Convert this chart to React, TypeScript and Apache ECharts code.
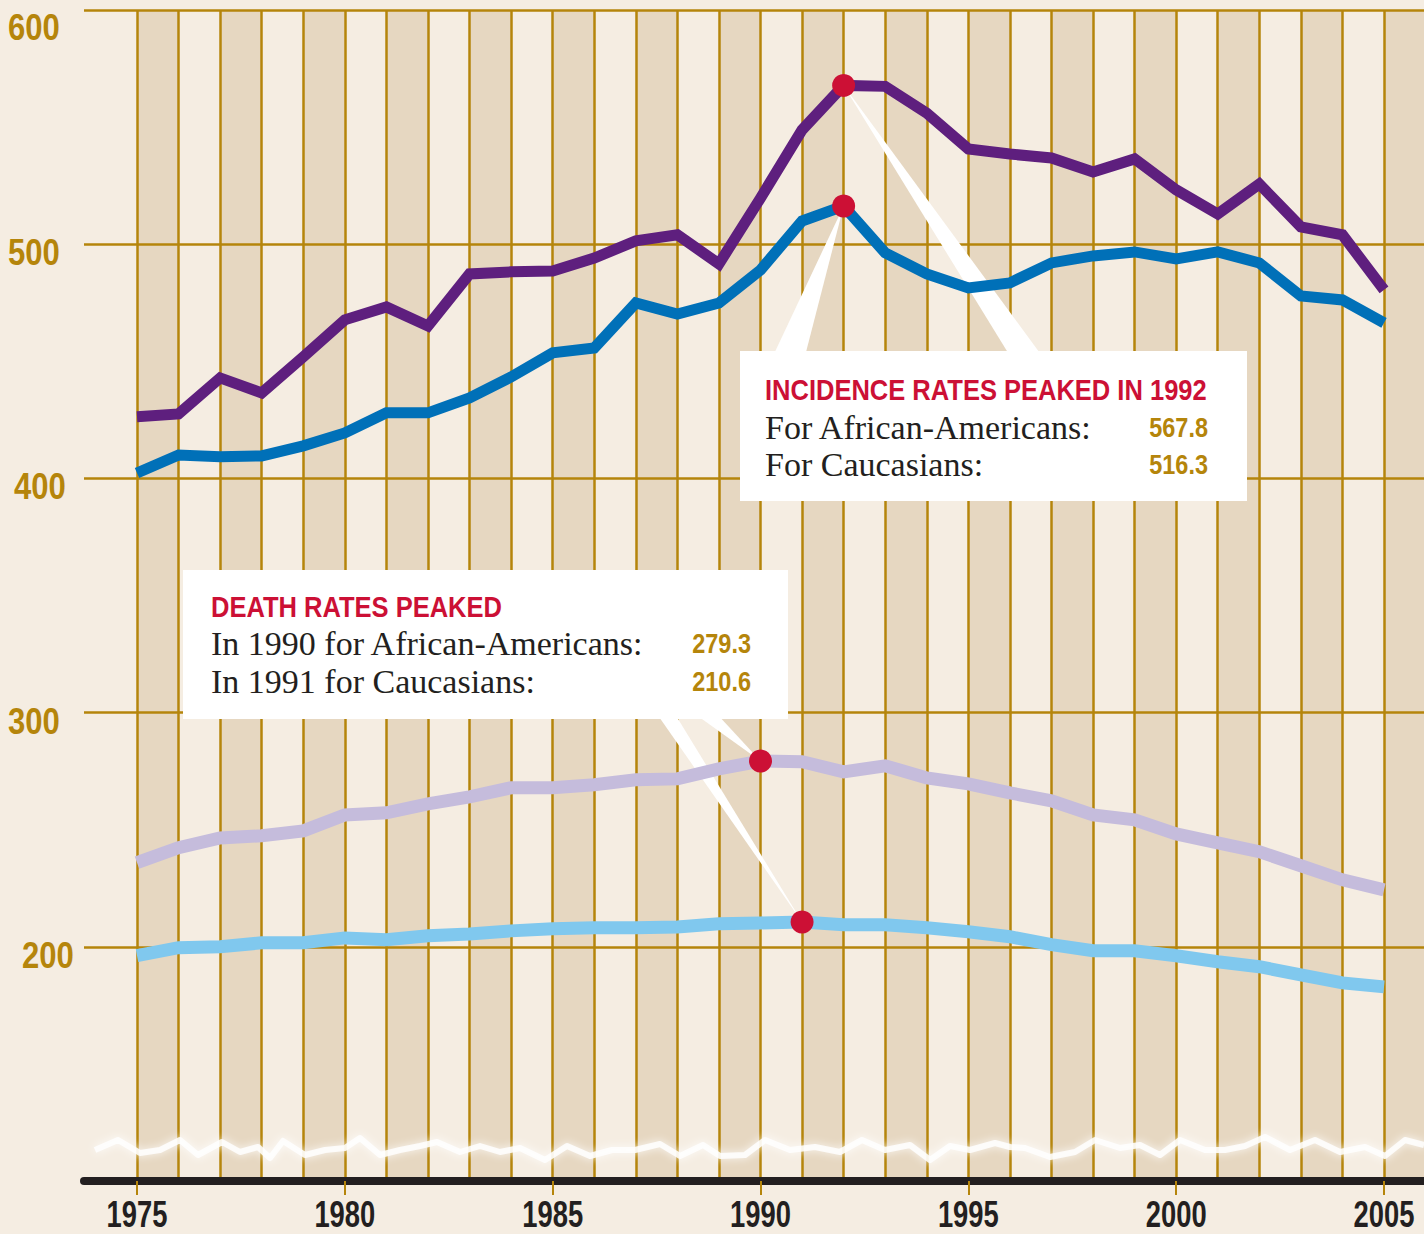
import React, { useEffect, useRef } from "react";
import * as echarts from "echarts";

// ---------------- data ----------------
const years = [
  1975, 1976, 1977, 1978, 1979, 1980, 1981, 1982, 1983, 1984, 1985, 1986, 1987, 1988, 1989, 1990,
  1991, 1992, 1993, 1994, 1995, 1996, 1997, 1998, 1999, 2000, 2001, 2002, 2003, 2004, 2005,
];
const incidenceAfricanAmerican = [
  426.3, 427.5, 442.9, 436.5, 451.9, 467.7, 473.2, 465.1, 487.3, 488.2, 488.6, 494.1, 501.4, 504.0,
  491.6, 519.7, 548.8, 567.8, 567.4, 556.0, 540.7, 538.5, 536.8, 530.8, 536.4, 523.2, 512.9, 525.7,
  507.4, 504.0, 480.5,
];
const incidenceCaucasian = [
  402.3, 410.0, 409.2, 409.6, 413.9, 419.4, 428.0, 428.0, 434.4, 443.3, 453.6, 455.7, 474.9, 470.2,
  474.9, 489.0, 509.9, 516.3, 496.3, 487.3, 481.3, 483.5, 492.0, 495.0, 496.7, 493.7, 496.7, 492.0,
  477.9, 476.2, 466.4,
];
const deathAfricanAmerican = [
  235.9, 242.3, 246.5, 247.4, 249.5, 256.3, 257.2, 261.0, 264.0, 267.9, 267.9, 269.2, 271.3, 271.7,
  276.0, 279.3, 279.0, 274.7, 277.3, 272.1, 269.6, 265.7, 262.3, 256.3, 254.2, 248.2, 244.4, 240.6,
  234.6, 228.6, 224.3,
];
const deathCaucasian = [
  196.2, 199.6, 200.0, 201.7, 201.7, 203.8, 203.0, 204.7, 205.5, 206.8, 207.7, 208.1, 208.1, 208.5,
  209.8, 210.2, 210.6, 209.4, 209.4, 208.1, 206.4, 204.3, 200.9, 198.3, 198.3, 196.2, 193.6, 191.5,
  188.0, 184.6, 182.9,
];
const xTickLabels = [1975, 1980, 1985, 1990, 1995, 2000, 2005];
const yTickLabels = [200, 300, 400, 500, 600];
const bandStarts = [
  1975, 1977, 1979, 1981, 1983, 1985, 1987, 1989, 1991, 1993, 1995, 1997, 1999, 2001, 2003, 2005,
];
const incidencePeaks: [number, number][] = [
  [1992, 567.8],
  [1992, 516.3],
];
const deathPeaks: [number, number][] = [
  [1990, 279.3],
  [1991, 210.6],
];
const incidenceTitle = "INCIDENCE RATES PEAKED IN 1992";
const incidenceRows = [
  ["For African-Americans:", "567.8"],
  ["For Caucasians:", "516.3"],
];
const deathTitle = "DEATH RATES PEAKED";
const deathRows = [
  ["In 1990 for African-Americans:", "279.3"],
  ["In 1991 for Caucasians:", "210.6"],
];

// ---------------- style ----------------
const BG = "#f5ede2";
const BAND = "#e6d7c1";
const GOLD = "#b5850b";
const RED = "#cc1035";
const INK = "#231f20";
const SANS = '"Liberation Sans", Arial, "DejaVu Sans", sans-serif';
const SERIF = '"Liberation Serif", "DejaVu Serif", serif';

const wavePoints: [number, number][] = [
  [95, 1150], [118, 1140], [140, 1153], [160, 1150], [180, 1140], [198, 1155], [222, 1142],
  [240, 1152], [258, 1147], [270, 1158], [283, 1141], [305, 1155], [325, 1150], [345, 1148],
  [360, 1138], [380, 1155], [400, 1150], [420, 1146], [437, 1142], [460, 1152], [480, 1146],
  [500, 1152], [520, 1148], [545, 1160], [567, 1146], [590, 1156], [612, 1150], [635, 1150],
  [660, 1144], [680, 1156], [703, 1145], [720, 1156], [745, 1155], [765, 1140], [790, 1150],
  [815, 1147], [840, 1152], [862, 1140], [885, 1150], [910, 1145], [930, 1160], [950, 1146],
  [970, 1150], [995, 1143], [1010, 1147], [1025, 1148], [1050, 1157], [1075, 1152], [1095, 1140],
  [1120, 1148], [1140, 1145], [1160, 1155], [1180, 1140], [1205, 1150], [1225, 1150], [1245, 1146],
  [1265, 1137], [1290, 1150], [1315, 1140], [1340, 1152], [1365, 1147], [1385, 1156], [1405, 1140],
  [1424, 1145],
];

// per-label nudges of the y tick labels (dx, dy from gridline)
const yLabelNudge: Record<number, [number, number]> = {
  600: [8, 17],
  500: [8, 8],
  400: [14, 8],
  300: [8, 8],
  200: [22, 8],
};

function pairs(vals: number[]) {
  return years.map((y, i) => [y, vals[i]]);
}

function lineSeries(name: string, vals: number[], color: string, width: number, extra: any = {}) {
  return {
    name,
    type: "line",
    data: pairs(vals),
    symbol: "none",
    z: 10,
    silent: true,
    lineStyle: { color, width, join: "miter", cap: "butt" },
    ...extra,
  };
}

export default function App() {
  const ref = useRef<HTMLDivElement>(null);

  useEffect(() => {
    if (!ref.current) return;
    const chart = echarts.init(ref.current, null, { renderer: "svg" });

    const X_MIN = 1973.725;
    const option: any = {
      animation: false,
      backgroundColor: BG,
      grid: { left: 84, right: 0, top: 10, bottom: 53, containLabel: false },
      xAxis: {
        type: "value",
        min: X_MIN,
        max: 2005.962,
        z: 4,
        splitLine: { show: false },
        axisLine: { show: true, onZero: false, lineStyle: { color: INK, width: 8 } },
        axisTick: {
          show: true,
          customValues: xTickLabels,
          length: 14,
          lineStyle: { color: GOLD, width: 2 },
        },
        axisLabel: { show: false },
      },
      yAxis: {
        type: "value",
        min: 100,
        max: 600,
        interval: 100,
        z: 3,
        axisLine: { show: false },
        axisTick: { show: false },
        splitLine: { show: true, lineStyle: { color: GOLD, width: 2.5 } },
        axisLabel: { show: false },
      },
      series: [
        lineSeries("Incidence, African-Americans", incidenceAfricanAmerican, "#5e1f7e", 11, {
          markArea: {
            silent: true,
            z: 1,
            itemStyle: { color: BAND },
            data: bandStarts.map((s) => [{ xAxis: s }, { xAxis: s + 1 }]),
          },
          markLine: {
            silent: true,
            z: 2,
            symbol: ["none", "none"],
            label: { show: false },
            lineStyle: { color: GOLD, width: 2.5, type: "solid" },
            data: years.map((y) => ({ xAxis: y })),
          },
        }),
        lineSeries("Incidence, Caucasians", incidenceCaucasian, "#0070b8", 11),
        lineSeries("Deaths, African-Americans", deathAfricanAmerican, "#c5bcdc", 13),
        lineSeries("Deaths, Caucasians", deathCaucasian, "#80c8ee", 13),
        {
          name: "Peaks",
          type: "scatter",
          data: [...incidencePeaks, ...deathPeaks],
          symbolSize: 23,
          z: 12,
          silent: true,
          itemStyle: { color: RED, opacity: 1 },
        },
      ],
    };
    chart.setOption(option);

    const px = (p: [number, number]) => chart.convertToPixel({ gridIndex: 0 }, p) as number[];
    const [pA, pB] = incidencePeaks.map(px);
    const [pC, pD] = deathPeaks.map(px);

    const wedge = (apex: number[], x1: number, x2: number, y: number) => ({
      type: "polygon",
      z: 5,
      silent: true,
      shape: { points: [[apex[0], apex[1]], [x1, y], [x2, y]] },
      style: { fill: "#ffffff" },
    });

    const txt = (text: string, x: number, y: number, opts: any, scaleX = 1, va = "middle") => ({
      type: "text",
      x,
      y,
      scaleX,
      z: 21,
      silent: true,
      style: { text, verticalAlign: va, ...opts },
    });
    const titleStyle = { fill: RED, fontFamily: SANS, fontWeight: "bold", fontSize: 29, align: "left" };
    const bodyStyle = { fill: INK, fontFamily: SERIF, fontSize: 34, align: "left" };
    const valueStyle = { fill: GOLD, fontFamily: SANS, fontWeight: "bold", fontSize: 28, align: "right" };
    const TITLE_SX = 0.88;
    const VALUE_SX = 0.84;

    const xLabels = xTickLabels.map((v) => {
      const p = px([v, 100]);
      return txt(
        String(v),
        p[0],
        1233,
        { fill: INK, fontFamily: SANS, fontWeight: "bold", fontSize: 37, align: "center" },
        0.74,
        "bottom"
      );
    });
    const yLabels = yTickLabels.map((v) => {
      const p = px([X_MIN, v]);
      const [dx, dy] = yLabelNudge[v];
      return txt(
        String(v),
        dx,
        p[1] + dy,
        { fill: GOLD, fontFamily: SANS, fontWeight: "bold", fontSize: 37, align: "left" },
        0.84
      );
    });

    const graphic: any[] = [
      {
        type: "polyline",
        z: 4,
        silent: true,
        shape: { points: wavePoints },
        style: {
          stroke: "rgba(255,255,255,0.85)",
          lineWidth: 6,
          fill: null,
          lineJoin: "round",
          shadowBlur: 8,
          shadowColor: "rgba(255,255,255,1)",
        },
      },
      wedge(pA, 1010, 1042, 356),
      wedge(pB, 773, 805, 356),
      wedge(pC, 695, 717, 714),
      wedge(pD, 657, 675, 714),
      {
        type: "rect",
        z: 20,
        silent: true,
        shape: { x: 740, y: 351, width: 507, height: 150 },
        style: { fill: "#ffffff" },
      },
      {
        type: "rect",
        z: 20,
        silent: true,
        shape: { x: 183, y: 570, width: 605, height: 149 },
        style: { fill: "#ffffff" },
      },
      txt(incidenceTitle, 765, 390, titleStyle, TITLE_SX),
      txt(incidenceRows[0][0], 765, 427, bodyStyle),
      txt(incidenceRows[0][1], 1208, 427, valueStyle, VALUE_SX),
      txt(incidenceRows[1][0], 765, 464, bodyStyle),
      txt(incidenceRows[1][1], 1208, 464, valueStyle, VALUE_SX),
      txt(deathTitle, 211, 607, titleStyle, TITLE_SX),
      txt(deathRows[0][0], 211, 643, bodyStyle),
      txt(deathRows[0][1], 751, 643, valueStyle, VALUE_SX),
      txt(deathRows[1][0], 211, 681, bodyStyle),
      txt(deathRows[1][1], 751, 681, valueStyle, VALUE_SX),
      ...xLabels,
      ...yLabels,
    ];
    chart.setOption({ graphic });

    return () => chart.dispose();
  }, []);

  return (
    <div
      ref={ref}
      style={{ position: "absolute", left: 0, top: 0, width: 1424, height: 1234 }}
    />
  );
}
